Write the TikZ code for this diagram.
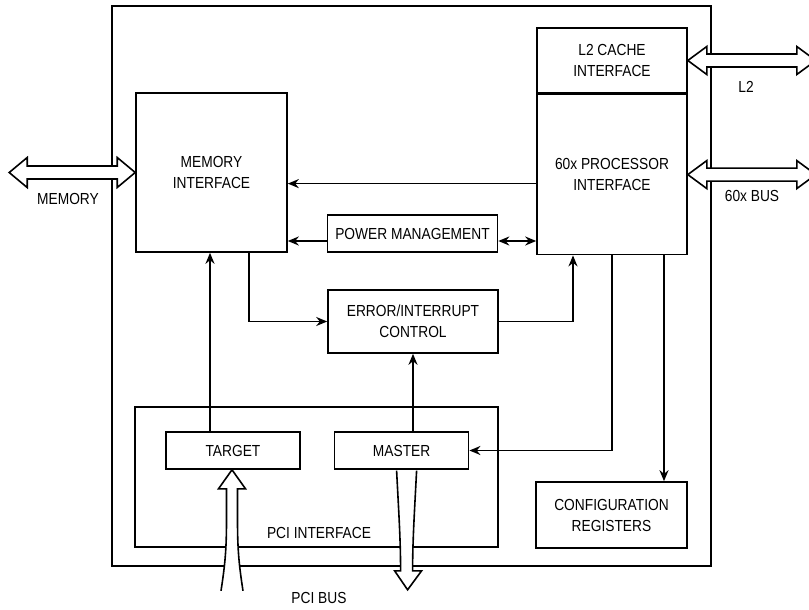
\documentclass[tikz,border=0pt]{standalone}
\usepackage{fontspec}
\setmainfont{Liberation Sans}[FakeStretch=0.86]
\usetikzlibrary{positioning,arrows.meta}

\begin{document}
\begin{tikzpicture}[x=1pt, y=-1pt, >={Stealth[length=11pt,width=9pt]}, font=\fontsize{16}{21}\selectfont]
        \tikzstyle{block}=[draw, rectangle, inner sep=0pt, align=center, line width=1.6pt]
        \tikzstyle{link}=[->, line width=1.7pt]
        \tikzstyle{bus}=[draw, fill=white, line width=1.6pt]

        \useasboundingbox (0,0) rectangle (809,610);

        \node[block, minimum width=599pt, minimum height=560pt] (chip) at (411.5,286) {};
        \node[block, minimum width=151pt, minimum height=159pt] (mem) at (211.5,172.5) {MEMORY\\INTERFACE};
        \node[block, minimum width=150pt, minimum height=65pt] (l2) at (612,60.5) {L2 CACHE\\INTERFACE};
        \node[block, minimum width=150pt, minimum height=160pt, below=0pt of l2] (proc) {60x PROCESSOR\\INTERFACE};
        \node[block, minimum width=170pt, minimum height=37pt] (pm) at (412.5,233.5) {POWER MANAGEMENT};
        \node[block, minimum width=170pt, minimum height=63pt] (err) at (413,321.5) {ERROR/INTERRUPT\\CONTROL};
        \node[block, minimum width=363pt, minimum height=140pt] (pci) at (316.5,477) {};
        \node[block, minimum width=134pt, minimum height=37pt] (tgt) at (233,450.5) {TARGET};
        \node[block, minimum width=134pt, minimum height=37pt, right=33pt of tgt] (mst) {MASTER};
        \node[block, minimum width=151pt, minimum height=66pt] (cfg) at (611.5,515) {CONFIGURATION\\REGISTERS};

        \node (pcilbl) at (319,533) {PCI INTERFACE};
        \node (memlbl) at (68,199) {MEMORY};
        \node (l2lbl) at (746,87) {L2};
        \node (buslbl) at (752,196) {60x BUS};
        \node (pcibus) at (319,598) {PCI BUS};

        \draw[link] ([yshift=-9pt]proc.west) -- ([yshift=-9pt]proc.west -| mem.east);
        \draw[link] ([yshift=-7.5pt]pm.west) -- ([yshift=-7.5pt]pm.west -| mem.east);
        \draw[link, <->] ([yshift=-7.5pt]pm.east) -- ([yshift=-7.5pt]pm.east -| proc.west);
        \draw[link] ([xshift=37.5pt]mem.south) |- (err.west);
        \draw[link] (err.east) -| ([xshift=-39pt]proc.south);
        \draw[link] ([xshift=-23pt]tgt.north) -- ([xshift=-23pt]tgt.north |- mem.south);
        \draw[link] (mst.north -| err.south) -- (err.south);
        \draw[link] (proc.south) |- (mst.east);
        \draw[link] ([xshift=52pt]proc.south) -- ([xshift=52pt]proc.south |- cfg.north);

        \draw[bus] (mem.west) -- ++(-18,-15) -- ++(0,8.5) -- ++(-90,0) -- ++(0,-8.5) -- ++(-18,15)
                -- ++(18,15) -- ++(0,-8.5) -- ++(90,0) -- ++(0,8.5) -- cycle;
        \foreach \n in {l2,proc}
                \draw[bus] (\n.east) -- ++(19,-14) -- ++(0,7.5) -- ++(90,0) -- ++(0,-7.5) -- ++(19,14)
                        -- ++(-19,14) -- ++(0,-7.5) -- ++(-90,0) -- ++(0,7.5) -- cycle;

        \begin{scope}[shift={(tgt.south)}]
                \draw[bus] (-12,121) .. controls (-8,95) and (-6.5,80) .. (-6.5,50) -- (-6.5,19) -- (-14.5,19) -- (-1,0)
                        -- (12.5,19) -- (4.5,19) -- (4.5,50) .. controls (4.5,80) and (6,95) .. (10,121);
        \end{scope}
        \begin{scope}[shift={(mst.south)}]
                \draw[bus] (-5,0.8) .. controls (-3,40) and (-1,70) .. (-1,101) -- (-7,101) -- (6,120)
                        -- (20,101) -- (11,101) .. controls (11,70) and (13,40) .. (15,0.8);
        \end{scope}
    \end{tikzpicture}
\end{document}
